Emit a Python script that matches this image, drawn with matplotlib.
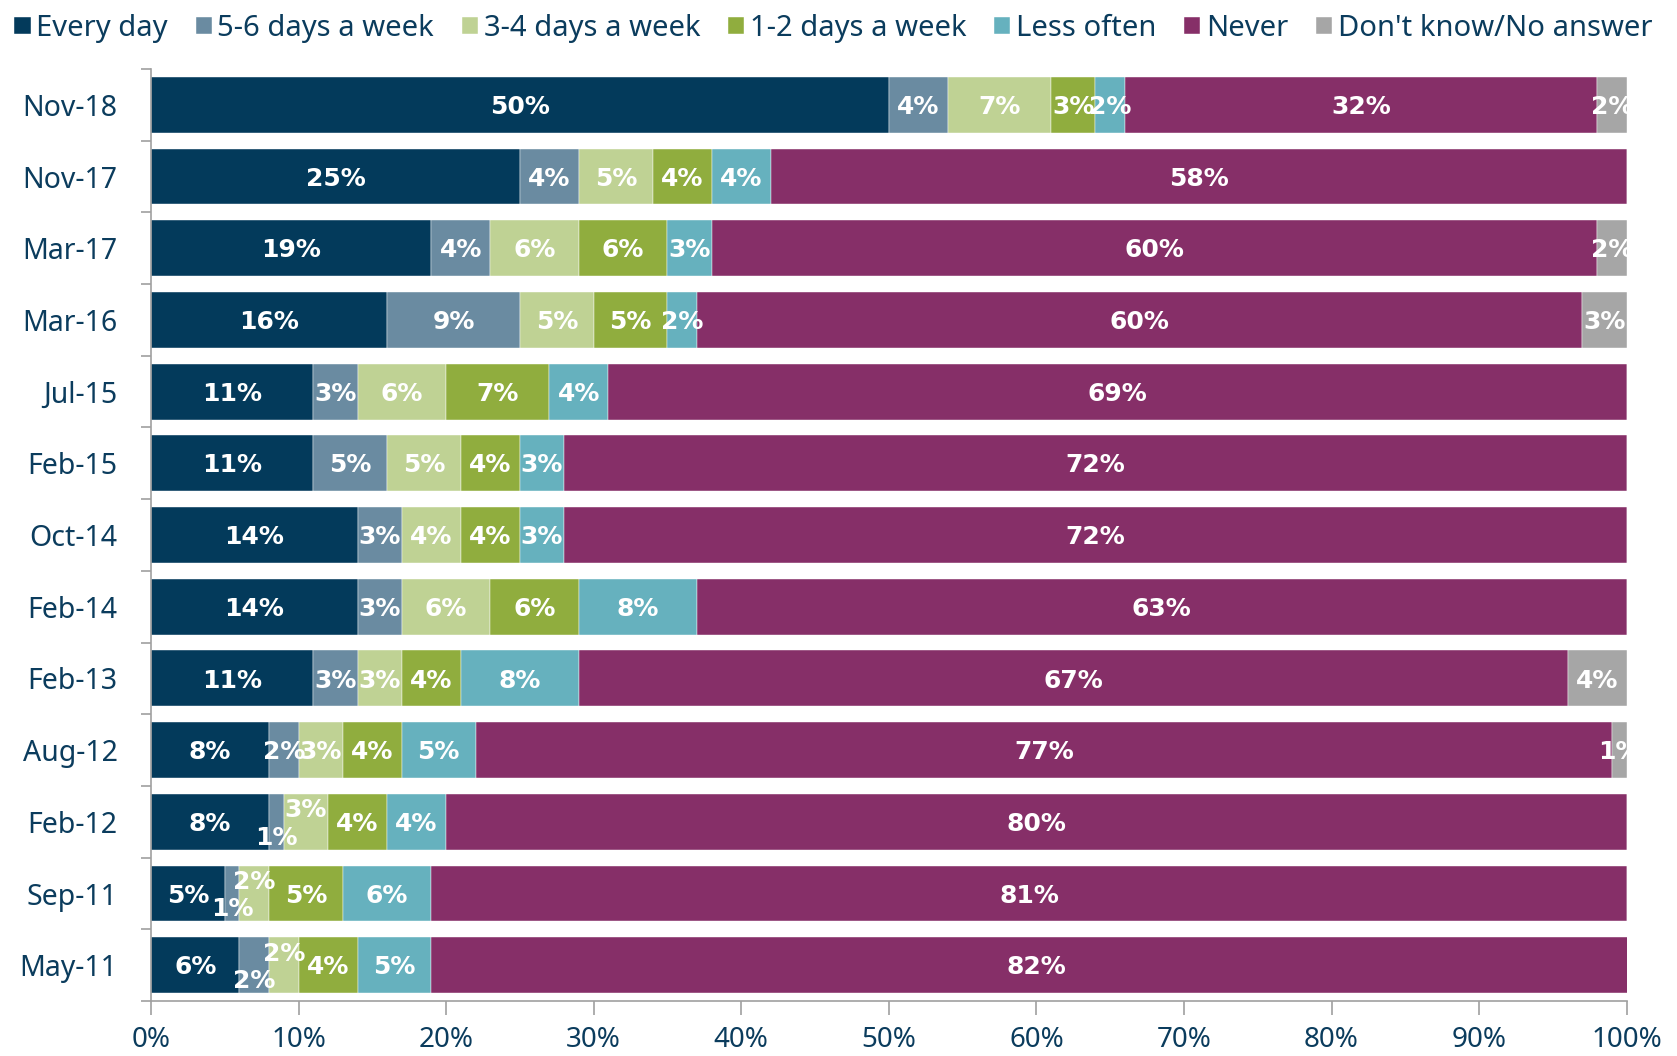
import numpy as np
import matplotlib
matplotlib.use("Agg")
import matplotlib.pyplot as plt

# survey waves, newest first (top of chart)
waves = ["Nov-18", "Nov-17", "Mar-17", "Mar-16", "Jul-15", "Feb-15", "Oct-14",
         "Feb-14", "Feb-13", "Aug-12", "Feb-12", "Sep-11", "May-11"]

answers = ["Every day", "5-6 days a week", "3-4 days a week", "1-2 days a week",
           "Less often", "Never", "Don't know/No answer"]

every_day  = [50, 25, 19, 16, 11, 11, 14, 14, 11, 8, 8, 5, 6]
days_5_6   = [4, 4, 4, 9, 3, 5, 3, 3, 3, 2, 1, 1, 2]
days_3_4   = [7, 5, 6, 5, 6, 5, 4, 6, 3, 3, 3, 2, 2]
days_1_2   = [3, 4, 6, 5, 7, 4, 4, 6, 4, 4, 4, 5, 4]
less_often = [2, 4, 3, 2, 4, 3, 3, 8, 8, 5, 4, 6, 5]
never      = [32, 58, 60, 60, 69, 72, 72, 63, 67, 77, 80, 81, 82]
dont_know  = [2, 0, 2, 3, 0, 0, 0, 0, 4, 1, 0, 0, 0]

series = [every_day, days_5_6, days_3_4, days_1_2, less_often, never, dont_know]
colors = ["#033a5b", "#6a8ba1", "#bfd294", "#90ad3e", "#66b1be", "#862f68", "#a6a6a6"]
txt_dark = "#0b3c5d"

plt.rcParams["font.family"] = ["Noto Sans", "DejaVu Sans"]

fig = plt.figure(figsize=(16.77, 10.56), dpi=100)
ax = fig.add_axes([0.09, 0.052, 0.88, 0.8827])

n = len(waves)
y = np.arange(n)[::-1]
left = np.zeros(n)
for vals, name, col in zip(series, answers, colors):
    vals = np.array(vals, dtype=float)
    ax.barh(y, vals, left=left, height=0.78, color=col, label=name,
            edgecolor="white", linewidth=0.3)
    left += vals

# value labels; narrow 5-6 / 3-4 pairs get staggered up and down
for i in range(n):
    start = 0.0
    stagger = days_5_6[i] + days_3_4[i] <= 4
    for k, vals in enumerate(series):
        v = vals[i]
        if v > 0:
            dy = -0.03
            if stagger and k == 1:
                dy = -0.22
            elif stagger and k == 2:
                dy = 0.16
            ax.text(start + v / 2, y[i] + dy, f"{v}%", ha="center", va="center",
                    color="white", fontsize=18, fontweight="bold",
                    family="DejaVu Sans", clip_on=True)
        start += v

ax.set_xlim(0, 100)
ax.set_ylim(-0.5, n - 0.5)
ax.set_xticks(np.arange(0, 101, 10))
ax.set_xticklabels([f"{t}%" for t in range(0, 101, 10)])
ax.set_yticks(y)
ax.set_yticklabels(waves)
ax.set_yticks(np.arange(-0.5, n, 1), minor=True)

for s in ["top", "right"]:
    ax.spines[s].set_visible(False)
for s in ["left", "bottom"]:
    ax.spines[s].set_color("#a0a0a0")
    ax.spines[s].set_linewidth(1.2)

ax.tick_params(axis="y", which="major", length=0, pad=24, labelsize=20.5, labelcolor=txt_dark)
ax.tick_params(axis="y", which="minor", length=7, color="#a0a0a0", width=1.2)
ax.tick_params(axis="x", which="major", length=10, color="#a0a0a0", width=1.2,
               pad=8, labelsize=20, labelcolor=txt_dark)

leg = fig.legend(loc="upper center", bbox_to_anchor=(0.497, 0.998), ncol=7,
                 frameon=False, fontsize=21, handlelength=0.55, handleheight=0.55,
                 handletextpad=0.2, columnspacing=0.95, borderaxespad=0)
for t in leg.get_texts():
    t.set_color(txt_dark)

fig.savefig("out.png", dpi=100)
